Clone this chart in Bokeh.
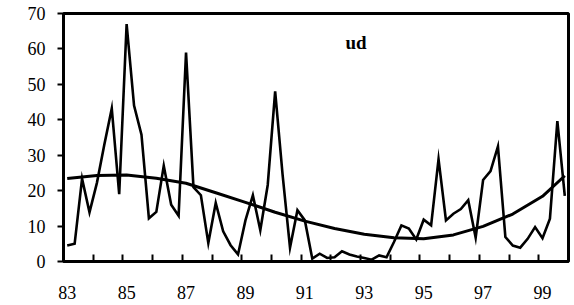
from bokeh.plotting import figure
from bokeh.models import Range1d, FixedTicker, Label
from bokeh.embed import file_html
from bokeh.resources import INLINE

# quarterly series 1983Q1 .. 1999Q4
ud = [4.5, 5.0, 23.4, 13.9, 22.2, 33.0, 43.2, 19.0, 67.0, 44.0,
      35.8, 12.2, 14.0, 27.0, 16.0, 12.9, 59.0, 21.0, 18.7, 5.2,
      16.5, 8.5, 4.6, 2.0, 11.6, 18.7, 8.8, 21.6, 48.0, 24.5,
      3.9, 14.5, 11.6, 0.8, 2.2, 1.0, 1.2, 2.9, 2.0, 1.4,
      1.0, 0.5, 1.7, 1.2, 5.5, 10.2, 9.3, 6.2, 11.8, 10.2,
      28.9, 11.6, 13.5, 14.8, 17.3, 6.7, 23.0, 25.5, 32.5, 6.9,
      4.5, 3.9, 6.4, 9.7, 6.6, 12.1, 39.6, 18.5]
quarters = list(range(len(ud)))

# trend line read at selected quarters
trend_q = [0, 4, 8, 12, 16, 20, 24, 28, 32, 36, 40, 44, 48, 52, 56, 60, 64, 67]
trend_v = [23.4, 24.3, 24.4, 23.5, 22.1, 19.4, 16.7, 13.9, 11.4, 9.3,
           7.7, 6.7, 6.4, 7.5, 9.9, 13.4, 18.4, 24.2]

year_labels = ["83", "85", "87", "89", "91", "93", "95", "97", "99"]
y_ticks = [0, 10, 20, 30, 40, 50, 60, 70]
title_text = "ud"

FONT = "Liberation Serif"

p = figure(width=574, height=305, output_backend="svg", toolbar_location=None,
           x_range=Range1d(-0.5, 67.5), y_range=Range1d(0, 70),
           min_border_left=63, min_border_right=6, min_border_top=13,
           min_border_bottom=44)
p.background_fill_color = "white"
p.border_fill_color = "white"
p.outline_line_color = "black"
p.outline_line_width = 3
p.xgrid.visible = False
p.ygrid.visible = False

label_pos = [i * 8 for i in range(len(year_labels))]
minor = [3.5 + 4 * k for k in range(16)]
p.xaxis.ticker = FixedTicker(ticks=label_pos, minor_ticks=minor)
p.xaxis.major_label_overrides = {pos: lab for pos, lab in zip(label_pos, year_labels)}
p.xaxis.major_tick_in = 0
p.xaxis.major_tick_out = 0
p.xaxis.minor_tick_in = 7
p.xaxis.minor_tick_out = 0
p.xaxis.minor_tick_line_width = 2
p.xaxis.minor_tick_line_color = "black"
p.xaxis.major_label_standoff = 24

p.yaxis.ticker = FixedTicker(ticks=y_ticks)
p.yaxis.major_tick_in = 0
p.yaxis.major_tick_out = 6
p.yaxis.minor_tick_in = 0
p.yaxis.minor_tick_out = 0
p.yaxis.major_tick_line_width = 2
p.yaxis.major_label_standoff = 12

for ax in (p.xaxis, p.yaxis):
    ax.axis_line_width = 3
    ax.axis_line_color = "black"
    ax.major_tick_line_color = "black"
    ax.major_label_text_font = FONT
    ax.major_label_text_font_size = "18px"
    ax.major_label_text_color = "black"

p.line(quarters, ud, line_color="black", line_width=2.6, line_join="miter")
p.line(trend_q, trend_v, line_color="black", line_width=3)

p.add_layout(Label(x=38.9, y=61.8, text=title_text, text_font=FONT,
                   text_font_style="bold", text_font_size="19px",
                   text_align="center", text_baseline="alphabetic",
                   text_color="black"))

open("out.html", "w").write(file_html(p, INLINE))
